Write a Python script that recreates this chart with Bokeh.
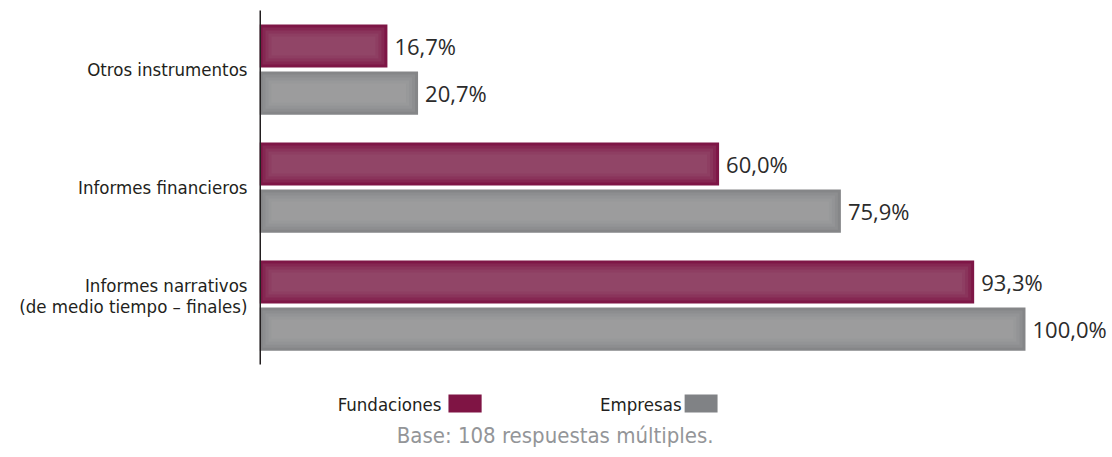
from bokeh.plotting import figure
from bokeh.models import Range1d, FixedTicker, ColumnDataSource
from bokeh.core.properties import value
from bokeh.embed import file_html
from bokeh.resources import INLINE

categories = ["Otros instrumentos", "Informes financieros",
              "Informes narrativos\n(de medio tiempo – finales)"]
series = ["Fundaciones", "Empresas"]
fundaciones = [16.7, 60.0, 93.3]
empresas = [20.7, 75.9, 100.0]
footnote = "Base: 108 respuestas múltiples."

FUND_EDGE, FUND_GLOW, FUND_SW = "#7e1646", "#9c5d77", "#7f1444"
EMP_EDGE, EMP_GLOW, EMP_SW = "#858688", "#a6a7a9", "#808285"
COND = "DejaVu Sans Condensed"

def fmt(v):
    return f"{v:.1f}".replace(".", ",") + "%"

idx = list(range(len(categories)))
off, bh = 0.2, 0.365
src_f = ColumnDataSource(dict(y=[i - off for i in idx], v=fundaciones, lab=[fmt(v) for v in fundaciones]))
src_e = ColumnDataSource(dict(y=[i + off for i in idx], v=empresas, lab=[fmt(v) for v in empresas]))

p = figure(width=1112, height=457, output_backend="svg", toolbar_location=None,
           x_range=Range1d(0, 111.36), y_range=Range1d(3.288, -0.585),
           min_border_left=259, min_border_right=0, min_border_top=0, min_border_bottom=0,
           x_axis_location=None)
p.outline_line_color = None
p.xgrid.visible = False
p.ygrid.visible = False

# bars with a soft lighter centre (stacked translucent insets)
sx, sy = 0.39, 0.0254
for src, edge, glow, vals in ((src_f, FUND_EDGE, FUND_GLOW, fundaciones),
                              (src_e, EMP_EDGE, EMP_GLOW, empresas)):
    p.hbar(y="y", left=0, right="v", height=bh, source=src, fill_color=edge, line_color=None)
    for k in range(1, 5):
        p.hbar(y=src.data["y"], left=[k * sx] * len(vals), right=[v - k * sx for v in vals],
               height=bh - 2 * k * sy, fill_color=glow, fill_alpha=0.25, line_color=None)

for s in (src_f, src_e):
    p.text(x="v", y="y", text="lab", source=s, x_offset=7, text_baseline="middle",
           text_font=value("Open Sans"), text_font_size="22px", text_color="#2b2b2b")

# vertical axis line
p.segment(x0=[0], y0=[-0.5], x1=[0], y1=[2.5], line_width=3, line_color="#231f20")

# category labels: the two-line label sits slightly above its category centre
label_pos = [0.0, 1.0, 1.92]
ax = p.yaxis[0]
ax.ticker = FixedTicker(ticks=label_pos)
ax.major_label_overrides = {t: c for t, c in zip(label_pos, categories)}
ax.axis_line_color = None
ax.major_tick_line_color = None
ax.minor_tick_line_color = None
ax.major_label_standoff = 6
ax.major_label_text_font = COND
ax.major_label_text_font_size = "18.5px"
ax.major_label_text_line_height = 1.0
ax.major_label_text_color = "#231f20"

# legend (text followed by swatch)
leg_y = 2.839
p.text(x=[23.76, 55.1], y=[leg_y, leg_y], text=series, text_align="right",
       text_baseline="middle", text_font=value(COND), text_font_size="18.5px",
       text_color="#231f20")
p.quad(left=[24.67, 55.5], right=[29.0, 59.8], top=[2.754, 2.754], bottom=[2.907, 2.907],
       fill_color=[FUND_SW, EMP_SW], line_color=None)

p.text(x=[38.6], y=[3.102], text=[footnote], text_align="center", text_baseline="middle",
       text_font=value(COND), text_font_size="22px", text_color="#939598")

open("out.html", "w").write(file_html(p, INLINE))
